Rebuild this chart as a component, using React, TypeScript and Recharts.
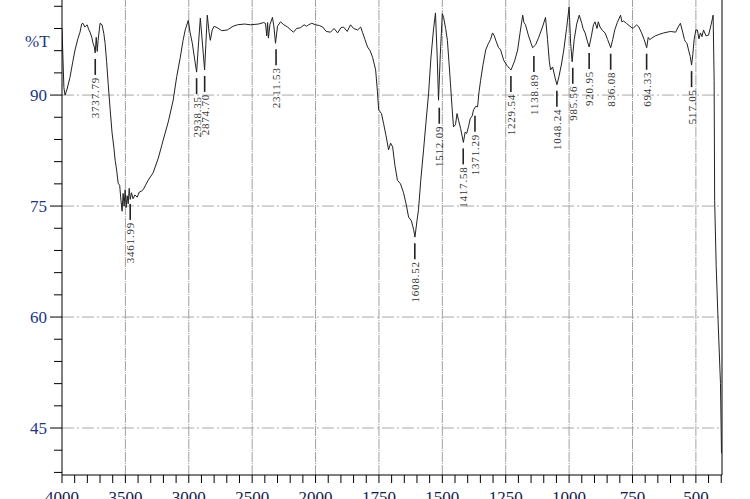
import React from 'react';
import { ComposedChart, Line, Scatter, XAxis, YAxis, ReferenceLine } from 'recharts';

// FTIR spectrum: [wavenumber cm-1, %T]
const spectrum: [number, number][] = [
  [4000, 99.0], [3985, 91.0], [3976, 90.0], [3960, 90.8], [3937, 92.4], [3915, 94.5], [3897, 96.1],
  [3875, 97.6], [3858, 98.5], [3845, 99.6], [3834, 99.7], [3820, 99.2], [3802, 99.5], [3790, 98.9],
  [3779, 98.5], [3765, 97.8], [3755, 97.0], [3745, 96.5], [3738, 95.7], [3730, 97.8], [3722, 95.9],
  [3715, 97.4], [3700, 99.7], [3684, 99.5], [3670, 98.3], [3660, 97.0], [3648, 94.5], [3636, 91.6],
  [3620, 88.0], [3605, 84.9], [3590, 82.8], [3581, 81.2], [3570, 80.0], [3557, 78.1], [3545, 77.8],
  [3535, 75.8], [3526, 74.3], [3518, 76.7], [3510, 75.0], [3502, 77.2], [3494, 74.8], [3486, 76.4],
  [3478, 75.3], [3470, 77.4], [3462, 75.9], [3452, 76.8], [3440, 76.0], [3425, 76.5], [3407, 76.2],
  [3390, 76.9], [3375, 77.0], [3360, 77.2], [3320, 78.5], [3281, 79.5], [3240, 81.5], [3202, 83.9],
  [3160, 86.5], [3123, 89.3], [3095, 92.5], [3067, 95.1], [3045, 97.4], [3028, 98.8], [3004, 100.1],
  [2990, 98.5], [2972, 97.0], [2955, 95.0], [2938, 93.1], [2925, 96.5], [2909, 100.4], [2890, 96.5],
  [2875, 93.4], [2865, 97.0], [2854, 100.8], [2840, 98.5], [2830, 97.4], [2815, 98.8], [2800, 99.3],
  [2775, 99.1], [2740, 98.7], [2696, 98.8], [2650, 99.3], [2617, 99.5], [2560, 99.6], [2514, 99.5],
  [2450, 99.6], [2410, 99.8], [2395, 99.7], [2385, 98.0], [2378, 99.8], [2372, 97.7], [2360, 99.5],
  [2340, 100.5], [2328, 99.2], [2316, 97.0], [2300, 99.3], [2277, 99.9], [2250, 99.5], [2221, 99.2],
  [2195, 98.8], [2174, 98.5], [2150, 99.0], [2119, 99.1], [2090, 99.5], [2070, 99.3], [2055, 99.5],
  [2030, 99.7], [2000, 99.5], [1985, 99.4], [1972, 99.2], [1958, 98.6], [1941, 98.5], [1927, 99.0],
  [1913, 98.4], [1900, 99.1], [1890, 99.2], [1875, 98.6], [1862, 99.5], [1850, 99.0], [1834, 98.8],
  [1822, 99.2], [1815, 98.5], [1805, 97.5], [1795, 96.5], [1785, 96.0], [1775, 95.1], [1763, 93.4],
  [1756, 90.5], [1751, 88.0], [1740, 87.5], [1732, 86.2], [1722, 84.5], [1712, 82.6], [1704, 83.5],
  [1696, 83.0], [1687, 80.5], [1677, 78.5], [1665, 78.0], [1653, 76.8], [1643, 75.3], [1633, 73.5],
  [1622, 73.0], [1613, 71.8], [1608, 70.8], [1600, 73.0], [1594, 74.5], [1585, 78.5], [1574, 82.6],
  [1564, 86.5], [1554, 90.3], [1545, 95.0], [1535, 98.8], [1527, 101.1], [1520, 95.0], [1515, 89.3],
  [1508, 95.5], [1500, 101.0], [1495, 100.5], [1487, 99.0], [1480, 97.4], [1474, 94.5], [1468, 91.6],
  [1462, 88.5], [1456, 85.7], [1448, 86.0], [1442, 87.5], [1436, 86.6], [1428, 85.5], [1417, 83.6],
  [1410, 85.0], [1404, 84.8], [1397, 85.7], [1390, 86.8], [1382, 87.2], [1377, 88.0], [1368, 88.5],
  [1361, 88.4], [1355, 90.5], [1349, 92.0], [1340, 94.0], [1329, 96.1], [1318, 97.0], [1310, 97.5],
  [1302, 98.4], [1295, 98.0], [1287, 97.2], [1278, 96.4], [1270, 96.1], [1258, 94.7], [1245, 94.0],
  [1235, 93.6], [1229, 93.4], [1215, 94.6], [1203, 96.1], [1193, 98.5], [1183, 100.8], [1178, 99.8],
  [1172, 99.5], [1160, 98.0], [1150, 97.0], [1144, 96.4], [1132, 96.8], [1120, 97.8], [1105, 99.2],
  [1093, 100.5], [1085, 97.5], [1078, 94.5], [1073, 93.4], [1065, 93.8], [1055, 92.3], [1048, 91.4],
  [1040, 92.5], [1030, 94.2], [1021, 96.1], [1010, 99.0], [1000, 101.9], [994, 97.0], [988, 94.5],
  [980, 97.5], [970, 99.6], [960, 100.8], [950, 99.7], [945, 99.0], [937, 98.4], [928, 97.3],
  [921, 96.5], [912, 98.0], [904, 99.5], [898, 99.9], [890, 99.0], [885, 99.9], [878, 99.2],
  [868, 98.7], [858, 98.4], [848, 97.5], [836, 96.4], [828, 97.5], [820, 98.8], [810, 99.8],
  [797, 100.8], [792, 99.9], [785, 100.0], [774, 99.7], [760, 99.3], [748, 99.0], [734, 99.5],
  [725, 99.2], [714, 98.4], [704, 97.5], [694, 96.4], [688, 97.8], [682, 97.5], [674, 97.7],
  [660, 98.0], [645, 98.2], [627, 98.4], [600, 98.6], [580, 98.5], [570, 99.2], [561, 99.7],
  [552, 98.5], [545, 97.5], [541, 97.2], [535, 97.0], [529, 96.1], [522, 95.2], [517, 94.05],
  [512, 95.5], [507, 97.5], [500, 98.8], [494, 98.8], [488, 97.6], [482, 98.4], [476, 97.9],
  [470, 98.8], [460, 98.0], [450, 98.1], [440, 99.5], [432, 100.8], [428, 92.0], [426, 75.8],
  [420, 67.0], [413, 60.0], [403, 51.0], [399, 41.6],
];

// labelled peaks
const peakWavenumbers = [
  3737.79, 3461.99, 2938.35, 2874.7, 2311.53, 1608.52, 1512.09, 1417.58, 1371.29,
  1229.54, 1138.89, 1048.24, 985.56, 920.95, 836.08, 694.33, 517.05,
];
const peakTransmittance = [
  95.7, 76.1, 93.1, 93.4, 97.0, 70.8, 89.1, 83.6, 88.0,
  93.4, 96.1, 91.4, 94.5, 96.5, 96.4, 96.4, 94.05,
];

const xTickLabels = [4000, 3500, 3000, 2500, 2000, 1750, 1500, 1250, 1000, 750, 500];
const yTickLabels = [45, 60, 75, 90];

// the wavenumber axis is compressed 2:1 above 2000 cm-1
const toAxis = (wn: number) => (wn > 2000 ? 2000 + (wn - 2000) / 2 : wn);
const fromAxis = (u: number) => (u > 2000 ? 2000 + (u - 2000) * 2 : u);

const rows = spectrum.map(([wn, t]) => ({ u: toAxis(wn), t }));
const peakRows = peakWavenumbers.map((wn, i) => ({ u: toAxis(wn), t: peakTransmittance[i], label: wn.toFixed(2) }));

const xTicks: number[] = [];
for (let u = 3000; u >= 400; u -= 50) xTicks.push(u);
const yTicks: number[] = [];
for (let v = 39; v <= 102; v += 3) yTicks.push(v);

const serif = '"Liberation Serif", "DejaVu Serif", serif';

const YTick = (props: any) => {
  const { x, y, payload } = props;
  const major = yTickLabels.includes(payload.value);
  return (
    <g>
      <line x1={x - (major ? 12 : 8)} x2={x} y1={y} y2={y} stroke="#000" strokeWidth={1} />
      {major && (
        <text x={x - 15} y={y} dy="0.36em" textAnchor="end" fontSize={17} fontFamily={serif} fill="#22367f">
          {payload.value}
        </text>
      )}
    </g>
  );
};

const PeakMark = (props: any) => {
  const { cx, cy, payload } = props;
  if (cx == null || cy == null) return null;
  const top = cy + 24;
  return (
    <g>
      <line x1={cx} x2={cx} y1={cy + 6} y2={cy + 22} stroke="#222" strokeWidth={1.6} />
      <text
        x={cx + 4}
        y={top}
        transform={`rotate(-90 ${cx + 4} ${top})`}
        textAnchor="end"
        fontSize={11}
        letterSpacing={0.8}
        fontFamily={serif}
        fill="#333"
      >
        {payload.label}
      </text>
    </g>
  );
};

export default function App() {
  return (
    <div style={{ position: 'absolute', left: 0, top: 0, width: 750, height: 499, background: '#fff' }}>
      <ComposedChart width={750} height={499} data={rows} margin={{ top: 0, right: 28, bottom: 0, left: 0 }}>
        <XAxis
          dataKey="u"
          type="number"
          domain={[397, 3000]}
          reversed
          allowDataOverflow
          ticks={xTicks}
          interval={0}
          tickFormatter={(u: number) => (xTickLabels.includes(fromAxis(u)) ? String(fromAxis(u)) : '')}
          tickSize={8}
          tickMargin={8}
          height={24}
          tick={{ fontSize: 17, fill: '#141c4f', fontFamily: serif }}
          axisLine={{ stroke: '#000' }}
          tickLine={{ stroke: '#000' }}
        />
        <YAxis
          type="number"
          domain={[38.65, 102.85]}
          allowDataOverflow
          ticks={yTicks}
          interval={0}
          width={62}
          tickSize={0}
          tickMargin={0}
          tickLine={false}
          tick={(p: any) => <YTick {...p} />}
          axisLine={{ stroke: '#000' }}
        />
        {xTickLabels.slice(1).map((wn) => (
          <ReferenceLine key={`vx${wn}`} x={toAxis(wn)} stroke="#a0a0a0" strokeDasharray="10 1 1 1" />
        ))}
        {yTickLabels.map((v) => (
          <ReferenceLine key={`hy${v}`} y={v} stroke="#a8a8a8" strokeDasharray="12 3 2 3" />
        ))}
        <ReferenceLine x={397} stroke="#000" />
        <Line dataKey="t" type="linear" stroke="#222" strokeWidth={1} dot={false} isAnimationActive={false} />
        <Scatter data={peakRows} dataKey="t" shape={(p: any) => <PeakMark {...p} />} isAnimationActive={false} />
      </ComposedChart>
      <div
        style={{
          position: 'absolute',
          left: 25,
          top: 33,
          fontFamily: serif,
          fontSize: 17,
          color: '#22367f',
          lineHeight: '17px',
        }}
      >
        %T
      </div>
    </div>
  );
}
